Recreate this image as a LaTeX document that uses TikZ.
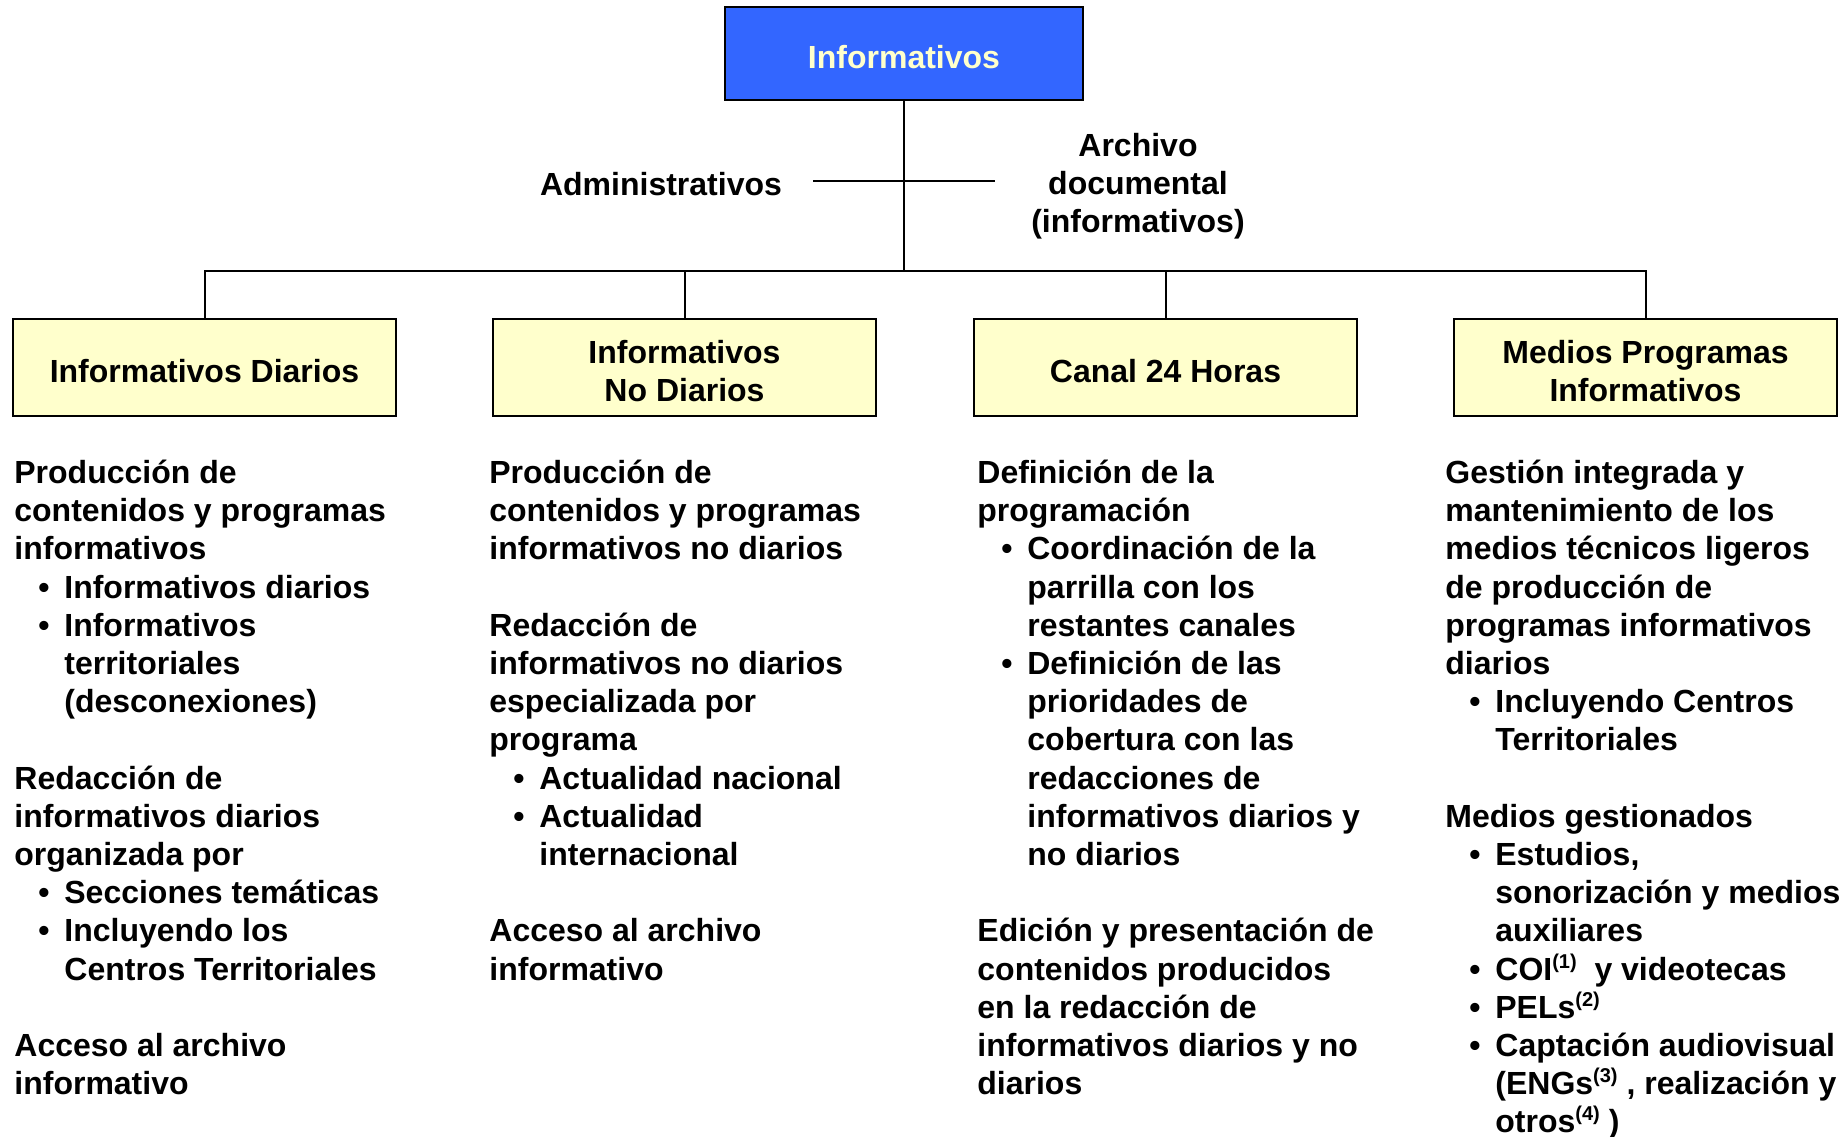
\documentclass[tikz,border=0pt]{standalone}
\usepackage{fontspec}
\setmainfont{Liberation Sans}
\definecolor{topblue}{HTML}{3366FF}
\definecolor{paleyel}{HTML}{FFFFCC}
\newcommand{\bul}{\hspace*{12pt}\makebox[13pt][l]{•}}
\newcommand{\cnt}{\hspace*{25pt}}
\newcommand{\fl}{\rule{0pt}{16pt}}
\newcommand{\bs}{\rule{0pt}{15.2pt}}
\newcommand{\sps}[1]{\raisebox{6pt}{\fontsize{10pt}{10pt}\selectfont #1}}
\tikzset{
  every node/.style={font=\fontsize{16pt}{19.1pt}\selectfont\bfseries},
  topbox/.style={draw=black, line width=1pt, fill=topblue, text=paleyel, minimum width=179pt, minimum height=46.5pt, inner sep=0pt},
  unitbox/.style={draw=black, line width=1pt, fill=paleyel, minimum width=191.5pt, minimum height=48.5pt, inner sep=0pt, align=center},
  lbl/.style={align=center, inner sep=0pt},
  txt/.style={align=left, anchor=north west, inner sep=0pt},
  conn/.style={line width=1pt, draw=black}
}
\begin{document}
\begin{tikzpicture}[x=0.5pt,y=-0.5pt]
\useasboundingbox[fill=white] (0,0) rectangle (1842,1136);
\node[topbox] (top) at (904,53.5) {\bs Informativos};
\node[unitbox] (b1) at (204.5,367.5) {\bs Informativos Diarios};
\node[unitbox] (b2) at (684.5,367.5) {\bs Informativos\\No Diarios};
\node[unitbox] (b3) at (1165.5,367.5) {\bs Canal 24 Horas};
\node[unitbox] (b4) at (1645.5,367.5) {\bs Medios Programas\\Informativos};
\coordinate (bar) at (904,271);
\draw[conn] (top.south) -- (top.south |- bar);
\draw[conn] (b1.north) -- (b1.north |- bar) -- (b4.north |- bar) -- (b4.north);
\draw[conn] (b2.north) -- (b2.north |- bar);
\draw[conn] (b3.north) -- (b3.north |- bar);
\coordinate (hl) at (813,181);
\coordinate (hr) at (995,181);
\draw[conn] (hl) -- (hr);
\node[lbl] (adm) at (661,184) {Administrativos};
\node[lbl] (arch) at (1138,186.5) {Archivo\\documental\\(informativos)};
\node[txt] (t1) at (14,451) {\fl Producción de\\
contenidos y programas\\
informativos\\
\bul Informativos diarios\\
\bul Informativos\\
\cnt territoriales\\
\cnt (desconexiones)\\[19.1pt]
Redacción de\\
informativos diarios\\
organizada por\\
\bul Secciones temáticas\\
\bul Incluyendo los\\
\cnt Centros Territoriales\\[19.1pt]
Acceso al archivo\\
informativo};
\node[txt] (t2) at (489,451) {\fl Producción de\\
contenidos y programas\\
informativos no diarios\\[19.1pt]
Redacción de\\
informativos no diarios\\
especializada por\\
programa\\
\bul Actualidad nacional\\
\bul Actualidad\\
\cnt internacional\\[19.1pt]
Acceso al archivo\\
informativo};
\node[txt] (t3) at (977,451) {\fl Definición de la\\
programación\\
\bul Coordinación de la\\
\cnt parrilla con los\\
\cnt restantes canales\\
\bul Definición de las\\
\cnt prioridades de\\
\cnt cobertura con las\\
\cnt redacciones de\\
\cnt informativos diarios y\\
\cnt no diarios\\[19.1pt]
Edición y presentación de\\
contenidos producidos\\
en la redacción de\\
informativos diarios y no\\
diarios};
\node[txt] (t4) at (1445,451) {\fl Gestión integrada y\\
mantenimiento de los\\
medios técnicos ligeros\\
de producción de\\
programas informativos\\
diarios\\
\bul Incluyendo Centros\\
\cnt Territoriales\\[19.1pt]
Medios gestionados\\
\bul Estudios,\\
\cnt sonorización y medios\\
\cnt auxiliares\\
\bul COI\sps{(1)}\ \ y videotecas\\
\bul PELs\sps{(2)}\\
\bul Captación audiovisual\\
\cnt (ENGs\sps{(3)} , realización y\\
\cnt otros\sps{(4)} )};
\end{tikzpicture}
\end{document}
